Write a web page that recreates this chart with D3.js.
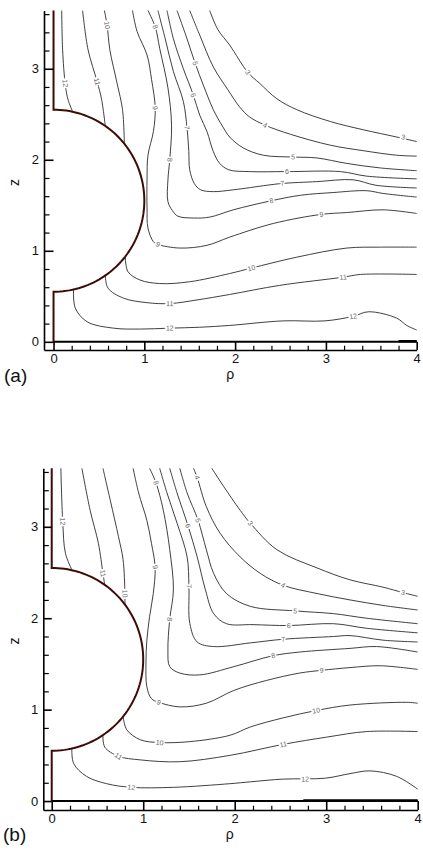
<!DOCTYPE html>
<html>
<head>
<meta charset="utf-8">
<script src="https://cdn.jsdelivr.net/npm/d3@7"></script>
<style>
  body { margin: 0; background: #fff; }
  text { font-family: "Liberation Sans", Arial, sans-serif; }
</style>
</head>
<body>
<svg id="chart" width="423" height="868"></svg>
<script>
// ---- panel (a) contour lines, [rho, z] ----
const a3 = [[1.72,3.64],[1.81,3.43],[1.94,3.26],[2.14,2.96],[2.27,2.84],[2.46,2.67],[2.68,2.55],[3.05,2.42],[3.41,2.33],[3.78,2.25],[4.0,2.2]];
const a4 = [[1.50,3.64],[1.61,3.37],[1.76,3.02],[1.92,2.77],[2.05,2.58],[2.16,2.47],[2.33,2.38],[2.61,2.28],[3.05,2.16],[3.41,2.10],[3.78,2.05],[4.0,2.04]];
const a5 = [[1.36,3.64],[1.47,3.33],[1.56,3.06],[1.65,2.82],[1.76,2.55],[1.86,2.37],[1.94,2.25],[2.09,2.13],[2.31,2.05],[2.64,2.03],[2.90,2.02],[3.23,1.96],[3.60,1.91],[4.0,1.88]];
const a6 = [[1.25,3.64],[1.32,3.33],[1.43,3.00],[1.54,2.71],[1.61,2.49],[1.69,2.31],[1.76,2.09],[1.83,1.96],[1.93,1.89],[2.16,1.87],[2.57,1.87],[3.16,1.87],[3.45,1.82],[4.0,1.79]];
const a7 = [[1.15,3.64],[1.23,3.33],[1.32,2.97],[1.43,2.64],[1.47,2.35],[1.49,2.09],[1.50,1.89],[1.55,1.74],[1.62,1.67],[1.76,1.65],[1.98,1.67],[2.35,1.72],[2.52,1.74],[2.90,1.76],[3.30,1.78],[3.55,1.72],[4.0,1.69]];
const a8 = [[1.04,3.64],[1.12,3.46],[1.17,3.22],[1.26,2.79],[1.30,2.38],[1.28,2.00],[1.26,1.78],[1.26,1.54],[1.31,1.44],[1.37,1.38],[1.54,1.36],[1.72,1.37],[1.98,1.45],[2.40,1.55],[2.72,1.61],[3.08,1.64],[3.45,1.66],[3.63,1.63],[4.0,1.59]];
const a9 = [[0.87,3.64],[0.92,3.41],[1.03,3.15],[1.08,2.88],[1.12,2.57],[1.10,2.31],[1.04,2.05],[1.03,1.80],[1.03,1.47],[1.04,1.25],[1.10,1.10],[1.15,1.07],[1.39,1.03],[1.69,1.06],[1.94,1.15],[2.42,1.30],[2.95,1.40],[3.23,1.42],[3.63,1.45],[4.0,1.41]];
const a10u = [[0.56,3.64],[0.59,3.48],[0.62,3.21],[0.70,2.84],[0.76,2.55],[0.78,2.18]];
const a10l = [[0.79,0.93],[0.82,0.77],[0.95,0.68],[1.17,0.64],[1.50,0.66],[1.94,0.75],[2.18,0.81],[2.68,0.93],[3.23,1.03],[3.60,1.04],[4.0,1.04]];
const a11u = [[0.32,3.64],[0.38,3.21],[0.48,2.86],[0.53,2.66],[0.57,2.37]];
const a11l = [[0.57,0.73],[0.60,0.59],[0.77,0.48],[1.03,0.43],[1.28,0.42],[1.58,0.46],[1.94,0.52],[2.49,0.62],[3.19,0.71],[3.38,0.74],[4.0,0.74]];
const a12u = [[0.09,3.64],[0.10,3.21],[0.13,2.82],[0.16,2.66],[0.21,2.53]];
const a12l = [[0.22,0.57],[0.24,0.37],[0.37,0.22],[0.66,0.15],[0.95,0.14],[1.28,0.15],[1.61,0.16],[1.94,0.18],[2.53,0.23],[2.99,0.23],[3.30,0.28],[3.47,0.33],[3.78,0.26],[3.89,0.18],[4.0,0.13]];

// ---- panel (b) contour lines ----
const b3 = [[1.75,3.64],[1.88,3.44],[2.06,3.18],[2.17,3.04],[2.46,2.75],[2.90,2.55],[3.26,2.42],[3.62,2.34],[3.84,2.28],[4.0,2.24]];
const b4 = [[1.55,3.64],[1.59,3.54],[1.69,3.22],[1.84,2.93],[2.06,2.67],[2.28,2.49],[2.53,2.36],[2.90,2.27],[3.26,2.20],[3.62,2.14],[4.0,2.09]];
const b5 = [[1.40,3.64],[1.48,3.37],[1.60,3.07],[1.69,2.75],[1.77,2.49],[1.91,2.27],[2.17,2.13],[2.66,2.08],[3.08,2.05],[3.44,2.00],[4.0,1.94]];
const b6 = [[1.29,3.64],[1.37,3.37],[1.49,3.01],[1.59,2.67],[1.68,2.31],[1.77,2.05],[1.91,1.94],[2.20,1.93],[2.59,1.92],[3.08,1.94],[3.44,1.89],[4.0,1.84]];
const b7 = [[1.18,3.64],[1.26,3.37],[1.37,3.04],[1.48,2.67],[1.50,2.35],[1.51,1.94],[1.59,1.74],[1.77,1.69],[2.17,1.73],[2.53,1.77],[3.08,1.80],[3.26,1.81],[3.62,1.76],[4.0,1.74]];
const b8 = [[1.07,3.64],[1.14,3.48],[1.22,3.18],[1.29,2.75],[1.33,2.31],[1.29,1.99],[1.27,1.65],[1.29,1.47],[1.40,1.40],[1.62,1.38],[1.99,1.47],[2.42,1.59],[2.71,1.63],[3.26,1.67],[3.55,1.69],[4.0,1.63]];
const b9 = [[0.89,3.64],[0.95,3.37],[1.04,3.07],[1.09,2.82],[1.13,2.56],[1.11,2.27],[1.07,2.02],[1.04,1.76],[1.03,1.51],[1.04,1.25],[1.09,1.12],[1.17,1.08],[1.40,1.03],[1.69,1.07],[1.99,1.21],[2.35,1.32],[2.71,1.40],[2.95,1.43],[3.26,1.46],[3.59,1.48],[4.0,1.44]];
const b10u = [[0.56,3.64],[0.64,3.29],[0.73,2.89],[0.78,2.64],[0.80,2.27],[0.80,2.15]];
const b10l = [[0.78,0.93],[0.82,0.78],[0.97,0.67],[1.18,0.64],[1.51,0.65],[1.95,0.72],[2.17,0.81],[2.53,0.91],[2.89,0.99],[3.26,1.05],[3.88,1.08],[4.0,1.07]];
const b11u = [[0.33,3.64],[0.42,3.18],[0.51,2.82],[0.56,2.49],[0.58,2.36]];
const b11l = [[0.56,0.72],[0.58,0.59],[0.73,0.49],[0.97,0.45],[1.40,0.43],[1.95,0.50],[2.53,0.62],[3.01,0.70],[3.44,0.76],[4.0,0.76]];
const b12u = [[0.10,3.64],[0.12,3.06],[0.15,2.71],[0.22,2.53]];
const b12l = [[0.22,0.57],[0.24,0.41],[0.38,0.27],[0.60,0.19],[0.87,0.15],[1.33,0.15],[1.95,0.19],[2.17,0.21],[2.53,0.24],[2.99,0.25],[3.26,0.30],[3.48,0.33],[3.77,0.27],[4.0,0.13]];

const levels = [3, 4, 5, 6, 7, 8, 9, 10, 10, 11, 11, 12, 12];

// contour labels: [level, rho, z]
const labelsA = [[3,2.14,2.96],[3,3.85,2.25],[4,2.33,2.38],[5,1.56,3.06],[5,2.64,2.03],[6,1.54,2.71],[6,2.57,1.87],
  [7,1.47,2.35],[7,2.52,1.74],[8,1.12,3.46],[8,1.28,2.00],[8,2.40,1.55],[9,1.12,2.57],[9,1.15,1.07],[9,2.95,1.40],
  [10,0.59,3.48],[10,2.18,0.81],[11,0.48,2.86],[11,1.28,0.42],[11,3.19,0.71],[12,0.13,2.84],[12,1.28,0.15],[12,3.30,0.28]];
const labelsB = [[3,2.17,3.04],[3,3.84,2.28],[4,1.59,3.54],[4,2.53,2.36],[5,1.60,3.07],[5,2.66,2.08],[6,1.49,3.01],[6,2.59,1.92],
  [7,1.50,2.35],[7,2.53,1.77],[8,1.14,3.48],[8,1.29,1.99],[8,2.42,1.59],[9,1.13,2.56],[9,1.17,1.08],[9,2.95,1.43],
  [10,0.80,2.27],[10,1.18,0.64],[10,2.89,0.99],[11,0.56,2.49],[11,0.73,0.49],[11,2.53,0.62],[12,0.12,3.06],[12,0.87,0.15],[12,2.77,0.24]];

// body geometry: sphere on a stem along the axis
const sphereCenter = 1.55, sphereRadius = 1, zTop = 3.64;
const xMajor = [0, 1, 2, 3, 4];
const yMajor = [0, 1, 2, 3];
const thickA = [3.8, 4.0], thickB = [2.75, 4.0];

const svg = d3.select("#chart");

function drawPanel(p) {
  const x = d3.scaleLinear().domain(p.xDomain).range([p.left, p.right]);
  const y = d3.scaleLinear().domain(p.yDomain).range([p.bottom, p.top]);
  const g = svg.append("g");

  const line = d3.line()
    .x(d => x(d[0]))
    .y(d => y(d[1]))
    .curve(d3.curveCatmullRom.alpha(0.5));

  // contours
  g.selectAll(".contour")
    .data(p.lines)
    .enter()
    .append("path")
    .attr("class", "contour")
    .attr("d", line)
    .attr("fill", "none")
    .attr("stroke", "#2a2a2a")
    .attr("stroke-width", 0.9);

  // labels on the lines
  p.labels.forEach(l => {
    const px = x(l[1]), py = y(l[2]);
    let best = null, bestD = Infinity;
    p.lines.forEach((pts, i) => {
      if (levels[i] !== l[0]) return;
      for (let k = 0; k < pts.length - 1; k++) {
        const x1 = x(pts[k][0]), y1 = y(pts[k][1]), x2 = x(pts[k + 1][0]), y2 = y(pts[k + 1][1]);
        const dx = x2 - x1, dy = y2 - y1;
        let t = ((px - x1) * dx + (py - y1) * dy) / (dx * dx + dy * dy);
        t = Math.max(0, Math.min(1, t));
        const qx = x1 + t * dx, qy = y1 + t * dy;
        const d = Math.hypot(px - qx, py - qy);
        if (d < bestD) { bestD = d; best = { ang: Math.atan2(dy, dx) * 180 / Math.PI }; }
      }
    });
    let ang = best ? best.ang : 0;
    if (ang > 100) ang -= 180;
    if (ang < -100) ang += 180;
    g.append("text")
      .attr("transform", "translate(" + px + "," + py + ") rotate(" + ang + ")")
      .attr("text-anchor", "middle")
      .attr("dy", "0.35em")
      .style("font-size", "7px")
      .style("fill", "#666")
      .style("stroke", "#fff")
      .style("stroke-width", 3)
      .style("paint-order", "stroke")
      .text(l[0]);
  });

  // body outline
  const arc = d3.range(90, -90.1, -2).map(a => {
    const r = a * Math.PI / 180;
    return [sphereRadius * Math.cos(r), sphereCenter + sphereRadius * Math.sin(r)];
  });
  const body = [[0, zTop], [0, sphereCenter + sphereRadius]].concat(arc, [[0, sphereCenter - sphereRadius], [0, 0]]);
  g.append("path")
    .attr("d", d3.line().x(d => x(d[0])).y(d => y(d[1]))(body))
    .attr("fill", "none")
    .attr("stroke", "#3d0c06")
    .attr("stroke-width", 2);

  // symmetry line z = 0
  g.append("line")
    .attr("x1", x(0)).attr("x2", x(4))
    .attr("y1", y(0)).attr("y2", y(0))
    .attr("stroke", "#000")
    .attr("stroke-width", 2);
  g.append("line")
    .attr("x1", x(p.thick[0])).attr("x2", x(p.thick[1]))
    .attr("y1", y(0) - 0.6).attr("y2", y(0) - 0.6)
    .attr("stroke", "#000")
    .attr("stroke-width", 2.4);

  // axes
  const tickLenX = y(p.yDomain[0]) - y(0);
  const tickLenY = x(0) - x(p.xDomain[0]);

  const xAxis = d3.axisBottom(x).tickValues(xMajor).tickFormat(d3.format("d"))
    .tickSizeInner(-tickLenX).tickSizeOuter(0).tickPadding(4);
  const xMinor = d3.axisBottom(x).tickValues(d3.range(0.2, 4, 0.2).filter(v => Math.abs(v - Math.round(v)) > 0.01))
    .tickSize(-4.3).tickFormat("");
  const yAxis = d3.axisLeft(y).tickValues(yMajor).tickFormat(d3.format("d"))
    .tickSizeInner(-tickLenY).tickSizeOuter(0).tickPadding(5);
  const yMinor = d3.axisLeft(y).tickValues(d3.range(0.2, 3.62, 0.2).filter(v => Math.abs(v - Math.round(v)) > 0.01))
    .tickSize(-5.5).tickFormat("");

  const gx = g.append("g").attr("transform", "translate(0," + p.bottom + ")").call(xAxis);
  g.append("g").attr("transform", "translate(0," + p.bottom + ")").call(xMinor).select(".domain").remove();
  const gy = g.append("g").attr("transform", "translate(" + p.left + ",0)").call(yAxis);
  g.append("g").attr("transform", "translate(" + p.left + ",0)").call(yMinor).select(".domain").remove();

  g.selectAll(".domain").attr("stroke", "#000").attr("stroke-width", 1.6);
  g.selectAll(".tick line").attr("stroke", "#000").attr("stroke-width", 1.2);
  gx.selectAll(".tick line").attr("stroke-width", 1.6);
  gy.selectAll(".tick line").attr("stroke-width", 1.6);
  g.selectAll(".tick text")
    .style("font-family", "'Liberation Sans', Arial, sans-serif")
    .style("font-size", "13px")
    .attr("fill", "#111");

  // axis titles
  g.append("text")
    .attr("x", x(2) - 5)
    .attr("y", p.bottom + 29)
    .attr("text-anchor", "middle")
    .style("font-size", "14px")
    .style("fill", "#111")
    .text("ρ");
  g.append("text")
    .attr("transform", "translate(" + 14 + "," + y(1.75) + ") rotate(-90)")
    .attr("text-anchor", "middle")
    .attr("dy", "0.35em")
    .style("font-size", "14px")
    .style("fill", "#111")
    .text("z");

  // panel tag
  g.append("text")
    .attr("x", p.tagX)
    .attr("y", p.tagY)
    .style("font-size", "19px")
    .style("fill", "#111")
    .text(p.tag);
}

drawPanel({
  lines: [a3, a4, a5, a6, a7, a8, a9, a10u, a10l, a11u, a11l, a12u, a12l],
  labels: labelsA,
  xDomain: [-0.105, 4], yDomain: [-0.09, 3.64],
  left: 44, right: 416.7, top: 10.5, bottom: 350,
  thick: thickA, tag: "(a)", tagX: 4, tagY: 382
});

drawPanel({
  lines: [b3, b4, b5, b6, b7, b8, b9, b10u, b10l, b11u, b11l, b12u, b12l],
  labels: labelsB,
  xDomain: [-0.092, 4], yDomain: [-0.098, 3.64],
  left: 43.3, right: 417.7, top: 468.3, bottom: 810,
  thick: thickB, tag: "(b)", tagX: 3, tagY: 841
});
</script>
</body>
</html>
